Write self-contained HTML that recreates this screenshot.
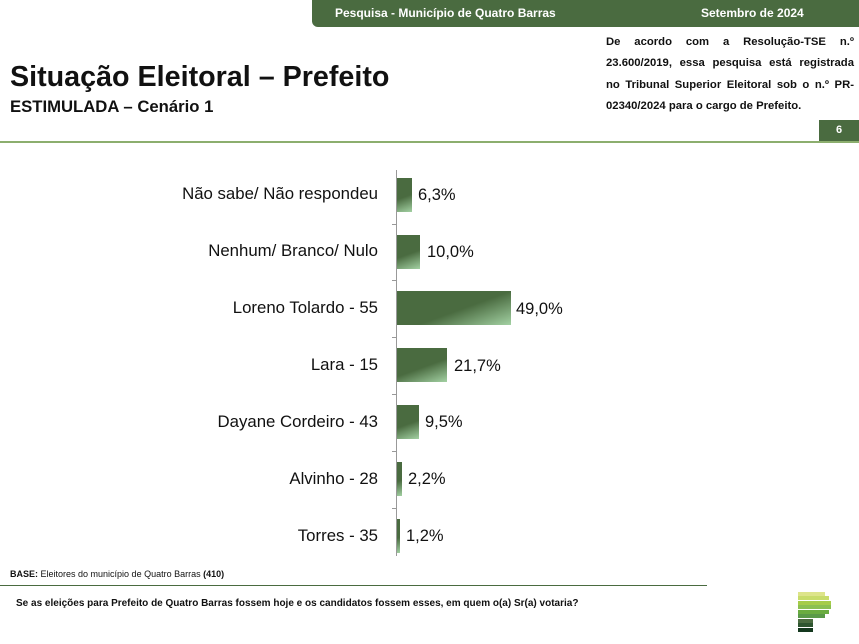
<!DOCTYPE html>
<html><head><meta charset="utf-8"><style>
body{margin:0;width:859px;height:644px;background:#fff;font-family:"Liberation Sans",Arial,sans-serif;position:relative;overflow:hidden}
.a{position:absolute}
.lbl{position:absolute;right:481px;font-size:16.8px;color:#111;white-space:nowrap}
.bar{position:absolute;left:397px;height:34px;background:linear-gradient(160deg,#4a6b40 0%,#4a6b40 55%,#a3d1a3 100%)}
.val{position:absolute;font-size:16.5px;color:#111}
.pl{height:21.4px;white-space:nowrap;text-align:justify;text-align-last:justify}
</style></head><body>
<div class="a" style="left:312px;top:0;width:547px;height:27px;background:#4a6b40;border-bottom-left-radius:6px"></div>
<div class="a" style="left:335px;top:6px;color:#fff;font-size:12px;font-weight:bold">Pesquisa - Município de Quatro Barras</div>
<div class="a" style="left:701px;top:6px;color:#fff;font-size:12px;font-weight:bold">Setembro de 2024</div>
<div class="a" style="left:10px;top:61px;font-size:28.7px;font-weight:bold;color:#111">Situação Eleitoral – Prefeito</div>
<div class="a" style="left:10px;top:97px;font-size:16.7px;font-weight:bold;color:#111">ESTIMULADA – Cenário 1</div>
<div class="a" style="left:606px;top:32px;width:248px;font-size:11.3px;font-weight:bold;line-height:21.4px;color:#111">
<div class="pl">De acordo com a Resolução-TSE n.º</div>
<div class="pl">23.600/2019, essa pesquisa está registrada</div>
<div class="pl">no Tribunal Superior Eleitoral sob o n.º PR-</div>
<div style="white-space:nowrap">02340/2024 para o cargo de Prefeito.</div>
</div>
<div class="a" style="left:819px;top:120px;width:40px;height:21px;background:#4a6b40;color:#fff;font-size:11px;font-weight:bold;text-align:center;line-height:21px">6</div>
<div class="a" style="left:0;top:141px;width:859px;height:2px;background:#8cae6e"></div>
<div class="a" style="left:396px;top:170px;width:1px;height:386px;background:#999"></div>
<div class="a" style="left:392px;top:224px;width:4px;height:1px;background:#999"></div>
<div class="a" style="left:392px;top:280px;width:4px;height:1px;background:#999"></div>
<div class="a" style="left:392px;top:337px;width:4px;height:1px;background:#999"></div>
<div class="a" style="left:392px;top:394px;width:4px;height:1px;background:#999"></div>
<div class="a" style="left:392px;top:451px;width:4px;height:1px;background:#999"></div>
<div class="a" style="left:392px;top:508px;width:4px;height:1px;background:#999"></div>

<div class="lbl" style="top:184px">Não sabe/ Não respondeu</div><div class="bar" style="top:178px;width:15px"></div><div class="val" style="left:418px;top:186px">6,3%</div>
<div class="lbl" style="top:241px">Nenhum/ Branco/ Nulo</div><div class="bar" style="top:235px;width:23px"></div><div class="val" style="left:427px;top:243px">10,0%</div>
<div class="lbl" style="top:298px">Loreno Tolardo - 55</div><div class="bar" style="top:291px;width:114px"></div><div class="val" style="left:516px;top:300px">49,0%</div>
<div class="lbl" style="top:355px">Lara - 15</div><div class="bar" style="top:348px;width:50px"></div><div class="val" style="left:454px;top:357px">21,7%</div>
<div class="lbl" style="top:412px">Dayane Cordeiro - 43</div><div class="bar" style="top:405px;width:22px"></div><div class="val" style="left:425px;top:413px">9,5%</div>
<div class="lbl" style="top:469px">Alvinho - 28</div><div class="bar" style="top:462px;width:5px"></div><div class="val" style="left:408px;top:470px">2,2%</div>
<div class="lbl" style="top:526px">Torres - 35</div><div class="bar" style="top:519px;width:3px"></div><div class="val" style="left:406px;top:527px">1,2%</div>

<div class="a" style="left:10px;top:569px;font-size:9px;color:#111"><b>BASE:</b> Eleitores do município de Quatro Barras <b>(410)</b></div>
<div class="a" style="left:0;top:585px;width:707px;height:1px;background:#4a6b40"></div>
<div class="a" style="left:16px;top:598px;font-size:10px;font-weight:bold;color:#111">Se as eleições para Prefeito de Quatro Barras fossem hoje e os candidatos fossem esses, em quem o(a) Sr(a) votaria?</div>
<div class="a" style="left:798px;top:592px;width:27px;height:4px;background:#dde48a"></div>
<div class="a" style="left:798px;top:596px;width:31px;height:4px;background:#c8dc6a"></div>
<div class="a" style="left:798px;top:601px;width:33px;height:4px;background:#a6cc48"></div>
<div class="a" style="left:798px;top:605px;width:33px;height:4px;background:#8cc050"></div>
<div class="a" style="left:798px;top:610px;width:31px;height:4px;background:#6aac40"></div>
<div class="a" style="left:798px;top:614px;width:27px;height:4px;background:#5a9a48"></div>
<div class="a" style="left:798px;top:619px;width:15px;height:4px;background:#4a6b40"></div>
<div class="a" style="left:798px;top:623px;width:15px;height:4px;background:#2e5530"></div>
<div class="a" style="left:798px;top:628px;width:15px;height:4px;background:#14381e"></div>
</body></html>
